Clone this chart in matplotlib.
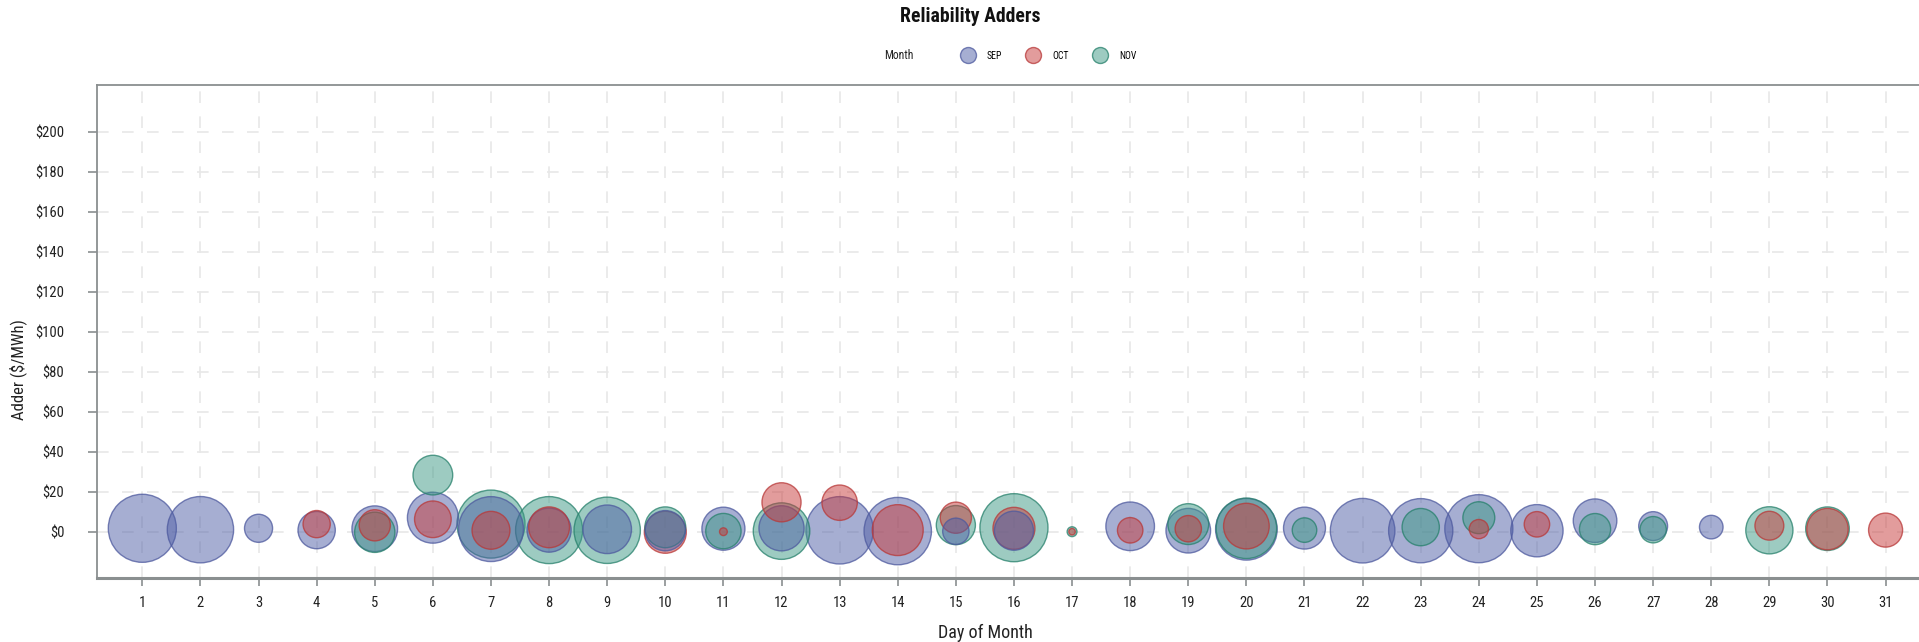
import matplotlib
matplotlib.use("Agg")
import matplotlib.pyplot as plt
from matplotlib.lines import Line2D
from matplotlib import font_manager as fm
import numpy as np

# ---------------- data ----------------
months = ["SEP", "OCT", "NOV"]

sep_day = [1, 2, 3, 4, 5, 6, 7, 8, 9, 10, 11, 12, 13, 14, 15, 16, 18, 19, 20, 21, 22, 23, 24, 25, 26, 27, 28]
sep_adder = [1.7, 1.0, 1.7, 0.8, 1.5, 7.0, 1.3, 0.8, 1.2, 0.5, 1.5, 1.7, 0.7, 0.3, 0.2, 0.5, 2.7, 0.5, 1.2, 1.8, 0.5, 0.5, 1.5, 0.5, 5.5, 2.8, 2.3]
sep_count = [100, 95, 17, 30, 45, 56, 91, 42, 51, 35, 40, 44, 98, 98, 15, 33, 51, 43, 82, 38, 90, 89, 100, 59, 41, 18, 12]

oct_day = [4, 5, 6, 7, 8, 10, 11, 12, 13, 14, 15, 16, 17, 18, 19, 20, 24, 25, 29, 30, 31]
oct_adder = [3.8, 3.2, 6.2, 0.7, 2.2, -0.3, 0.0, 14.7, 14.5, 0.8, 7.0, 1.7, 0.0, 0.7, 1.5, 2.8, 1.3, 3.7, 3.0, 1.3, 0.8]
oct_count = [16, 21, 29, 31, 36, 38, 1.3, 33, 27, 56, 21, 38, 0.9, 14, 15, 45, 8, 14, 18, 37, 25]

nov_day = [5, 6, 7, 8, 9, 10, 11, 12, 15, 16, 17, 19, 20, 21, 23, 24, 26, 27, 29, 30]
nov_adder = [-0.3, 28.3, 3.8, 0.8, 0.7, 2.2, 0.3, 0.3, 3.3, 2.0, 0.0, 3.8, 1.7, 0.8, 2.3, 7.0, 1.3, 1.0, 0.7, 1.5]
nov_count = [35, 34, 100, 97, 95, 36, 27, 69, 33, 100, 2.1, 36, 79, 13, 30, 22, 21, 15, 48, 41]

x_ticks = list(range(1, 32))
y_ticks = [0, 20, 40, 60, 80, 100, 120, 140, 160, 180, 200]
y_tick_labels = ["$" + str(v) for v in y_ticks]

# ---------------- style ----------------
names = {f.name for f in fm.fontManager.ttflist}
condensed = None
for cand in ("Roboto Condensed", "Liberation Sans Narrow", "Open Sans Condensed", "Noto Sans Condensed",
             "DejaVu Sans Condensed"):
    if cand in names:
        condensed = cand
        break
if condensed is None:
    condensed = "Liberation Sans"
    scale = 0.88
else:
    scale = 1.0
plt.rcParams["font.family"] = [condensed, "DejaVu Sans"]

face = {
    "SEP": (0.31, 0.37, 0.65, 0.50),
    "OCT": (0.78, 0.23, 0.23, 0.50),
    "NOV": (0.24, 0.60, 0.52, 0.50),
}
edge = {
    "SEP": (0.30, 0.35, 0.62, 0.75),
    "OCT": (0.72, 0.22, 0.22, 0.75),
    "NOV": (0.15, 0.50, 0.42, 0.75),
}
SIZE_SCALE = 24.0  # points^2 per count unit
gray = "#8a8f90"

fig = plt.figure(figsize=(19.19, 6.42), dpi=100)
ax = fig.add_axes([97 / 1919, 1 - 577.7 / 642, 1 - 97 / 1919, (577.7 - 85) / 642])

# combine and draw largest first so smaller bubbles are on top
rows = []
for m, d, a, c in (("SEP", sep_day, sep_adder, sep_count),
                   ("OCT", oct_day, oct_adder, oct_count),
                   ("NOV", nov_day, nov_adder, nov_count)):
    for dd, aa, cc in zip(d, a, c):
        rows.append((cc, dd, aa, m))
rows.sort(key=lambda r: -r[0])
xs = [r[1] for r in rows]
ys = [r[2] for r in rows]
ss = [r[0] * SIZE_SCALE for r in rows]
fcs = [face[r[3]] for r in rows]
ecs = [edge[r[3]] for r in rows]
ax.scatter(xs, ys, s=ss, c=fcs, edgecolors=ecs, linewidths=1.0, zorder=3)

ax.set_xlim(0.22, 31.575)
ax.set_ylim(-23, 223.35)
ax.set_xticks(x_ticks)
ax.set_xticklabels([str(v) for v in x_ticks], fontsize=10.5 * scale)
ax.set_yticks(y_ticks)
ax.set_yticklabels(y_tick_labels, fontsize=10.5 * scale)

ax.grid(True, color="#e8e8e8", linestyle=(0, (7, 8)), linewidth=1.2, zorder=0)
ax.set_axisbelow(True)

for side in ("left", "top"):
    ax.spines[side].set_color(gray)
    ax.spines[side].set_linewidth(1.3)
ax.spines["bottom"].set_color(gray)
ax.spines["bottom"].set_linewidth(2.2)
ax.spines["right"].set_visible(False)

ax.tick_params(axis="x", direction="out", length=5.5, width=1.2, color=gray, pad=8, labelcolor="#222222")
ax.tick_params(axis="y", direction="out", length=6.5, width=1.2, color=gray, pad=17, labelcolor="#222222")

ax.set_xlabel("Day of Month", fontsize=13 * scale, color="#222222", va="center")
ax.xaxis.set_label_coords((985 - 97) / 1822, (577.7 - 633) / 492.7)
ax.set_ylabel("Adder ($/MWh)", fontsize=12 * scale, color="#222222", va="center", ha="center")
ax.yaxis.set_label_coords((18 - 97) / 1822, (577.7 - 370) / 492.7)

fig.text(970 / 1919, 1 - 16 / 642, "Reliability Adders", ha="center", va="center",
         fontsize=14.2 * scale, fontweight="bold", color="#111111")

fig.text(884 / 1919, 1 - 55.7 / 642, "Month", ha="left", va="center", fontsize=8.5 * scale, color="#222222")
handles = [Line2D([], [], linestyle="none", marker="o", markersize=11.5,
                  markerfacecolor=face[m], markeredgecolor=edge[m], markeredgewidth=1.0)
           for m in months]
fig.legend(handles, months, loc="center left", bbox_to_anchor=(959.9 / 1919, 1 - 55.7 / 642),
           ncol=3, frameon=False, fontsize=7 * scale, borderpad=0, borderaxespad=0,
           handlelength=1.6, handletextpad=1.18, columnspacing=2.4)

fig.savefig("out.png", dpi=100)
